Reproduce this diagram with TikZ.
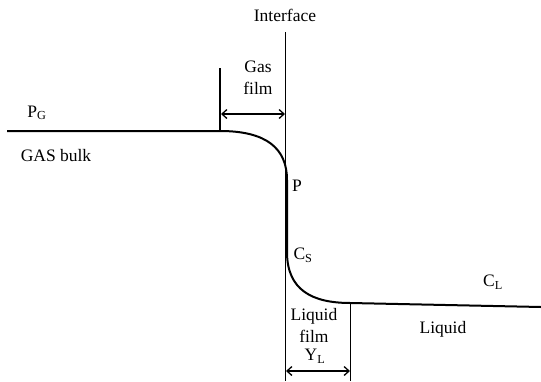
\documentclass[tikz,border=0pt]{standalone}
\usepackage{fontspec}
\setmainfont{Liberation Serif}
\usetikzlibrary{arrows.meta}
\begin{document}
\begin{tikzpicture}[x=1pt,y=-1pt,
  lbl/.style={inner sep=0pt,font=\fontsize{17.5}{20}\selectfont},
  profile/.style={line width=2pt,line join=round},
  guide/.style={line width=1.3pt},
  dimarrow/.style={line width=1.3pt,{Straight Barb[length=5pt,width=9pt]}-{Straight Barb[length=5pt,width=9pt]}}]
\useasboundingbox (0,0) rectangle (541,381);
% vertical guides
\coordinate (ifTop) at (285.5,32);
\coordinate (ifBot) at (285.5,381);
\coordinate (gfTop) at (220,68);
\coordinate (gfBot) at (220,131);
\coordinate (lfTop) at (350.5,303);
\coordinate (lfBot) at (350.5,381);
\draw[guide] (ifTop) -- (ifBot);
\draw[guide] (gfTop) -- (gfBot);
\draw[guide] (lfTop) -- (lfBot);
% film thickness arrows
\coordinate (gaL) at (221,114);
\coordinate (gaR) at (285,114);
\coordinate (laL) at (286,371);
\coordinate (laR) at (350,371);
\draw[dimarrow] (gaL) -- (gaR);
\draw[dimarrow] (laL) -- (laR);
% concentration profile
\coordinate (gStart) at (7,131);
\coordinate (lEnd) at (541,307);
\draw[profile] (gStart) -- (gfBot)
  .. controls (266,131) and (287,148) .. (287,180)
  -- (287,252)
  .. controls (287,290) and (312,303) .. (lfTop) -- (lEnd);
% labels
\node[lbl] (iface) at (285,15) {Interface};
\node[lbl] (gas) at (258,67) {Gas};
\node[lbl] (gfilm) at (258,88) {film};
\node[lbl] (pg) at (37,113) {P\textsubscript{G}};
\node[lbl] (gbulk) at (56,156) {GAS bulk};
\node[lbl] (p) at (297,186) {P};
\node[lbl] (cs) at (303,255) {C\textsubscript{S}};
\node[lbl] (liq) at (314,316) {Liquid};
\node[lbl] (lfilm) at (314,336) {film};
\node[lbl] (yl) at (315,356) {Y\textsubscript{L}};
\node[lbl] (cl) at (493,282) {C\textsubscript{L}};
\node[lbl] (liquid) at (443,329) {Liquid};
\end{tikzpicture}
\end{document}
